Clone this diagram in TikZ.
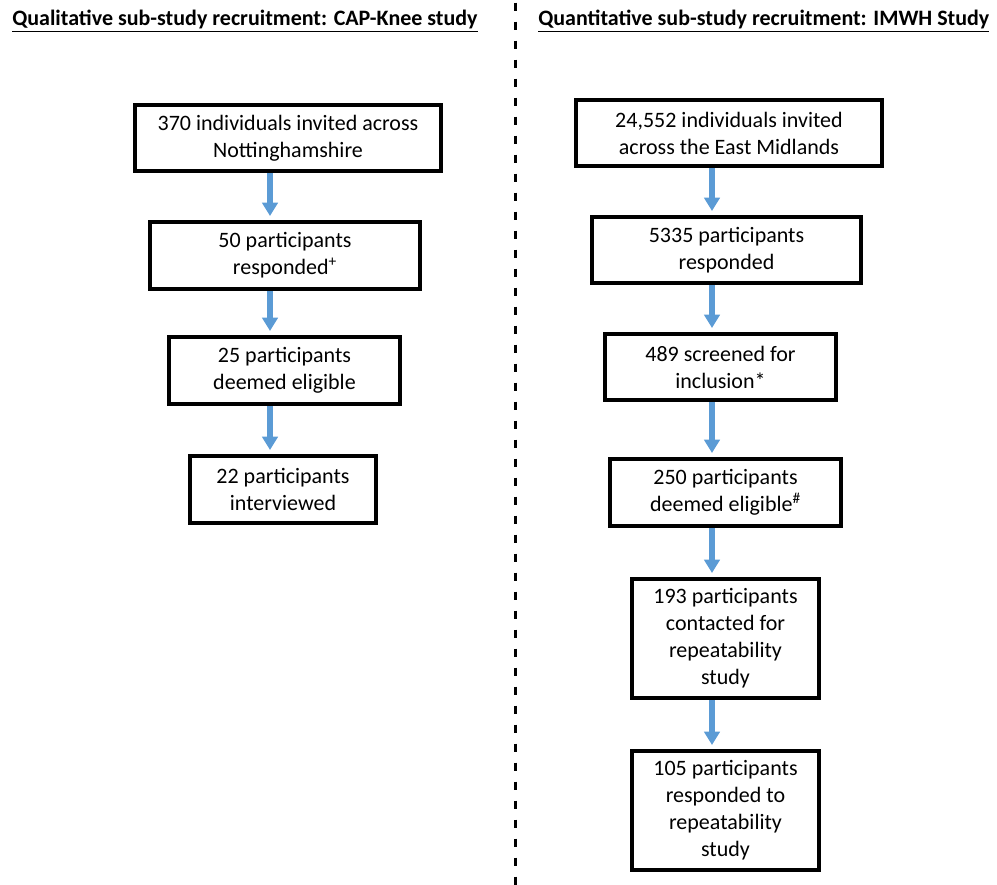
\documentclass[tikz,border=0pt]{standalone}
\usepackage{fontspec}
\setmainfont{Carlito}
\usetikzlibrary{arrows.meta}
\definecolor{flowblue}{HTML}{5B9BD5}
\tikzset{
  box/.style={draw=black,line width=3pt,align=center,inner sep=2pt,font=\fontsize{16.5}{20.25}\selectfont},
  flow/.style={draw=flowblue,line width=4.5pt,-{Triangle[width=11.5pt,length=10pt]},shorten >=3pt},
  heading/.style={anchor=base west,inner sep=0pt,font=\fontsize{16.5}{20}\selectfont\bfseries}
}
\begin{document}
\begin{tikzpicture}[x=0.75pt,y=-0.75pt]
		\useasboundingbox (0,0) rectangle (997,885);
		\node[heading] (headL) at (12,26) {\underline{Qualitative sub-study recruitment: CAP-Knee study}};
		\node[heading] (headR) at (538,26) {\underline{Quantitative sub-study recruitment: IMWH Study}};
		\draw[line width=2.25pt,dash pattern=on 6pt off 8.25pt,dash phase=-2pt] (515,0) -- (515,885);
		\node[box,minimum width=306*0.75pt,minimum height=66*0.75pt] (l1) at (288,138) {370 individuals invited across\\Nottinghamshire};
		\node[box,minimum width=270*0.75pt,minimum height=67*0.75pt] (l2) at (285,255.5) {50 participants\\responded\textsuperscript{+}};
		\node[box,minimum width=231*0.75pt,minimum height=67*0.75pt] (l3) at (284.5,370.5) {25 participants\\deemed eligible};
		\node[box,minimum width=186*0.75pt,minimum height=67*0.75pt] (l4) at (283,489.5) {22 participants\\interviewed};
		\node[box,minimum width=306*0.75pt,minimum height=66*0.75pt] (r1) at (729,133) {24,552 individuals invited\\across the East Midlands};
		\node[box,minimum width=269*0.75pt,minimum height=66*0.75pt] (r2) at (726.5,250) {5335 participants\\responded};
		\node[box,minimum width=231*0.75pt,minimum height=66*0.75pt] (r3) at (720.5,367) {489 screened for\\inclusion*};
		\node[box,minimum width=231*0.75pt,minimum height=67*0.75pt] (r4) at (725.5,492.5) {250 participants\\deemed eligible\textsuperscript{\#}};
		\node[box,minimum width=187*0.75pt,minimum height=119*0.75pt] (r5) at (725.5,638.5) {193 participants\\contacted for\\repeatability\\study};
		\node[box,minimum width=187*0.75pt,minimum height=119*0.75pt] (r6) at (725.5,810.5) {105 participants\\responded to\\repeatability\\study};
		\coordinate (colL) at (270,0);
		\coordinate (colR) at (712,0);
		\draw[flow] (l1.south -| colL) -- (l2.north -| colL);
		\draw[flow] (l2.south -| colL) -- (l3.north -| colL);
		\draw[flow] (l3.south -| colL) -- (l4.north -| colL);
		\draw[flow] (r1.south -| colR) -- (r2.north -| colR);
		\draw[flow] (r2.south -| colR) -- (r3.north -| colR);
		\draw[flow] (r3.south -| colR) -- (r4.north -| colR);
		\draw[flow] (r4.south -| colR) -- (r5.north -| colR);
		\draw[flow] (r5.south -| colR) -- (r6.north -| colR);
	\end{tikzpicture}
\end{document}
